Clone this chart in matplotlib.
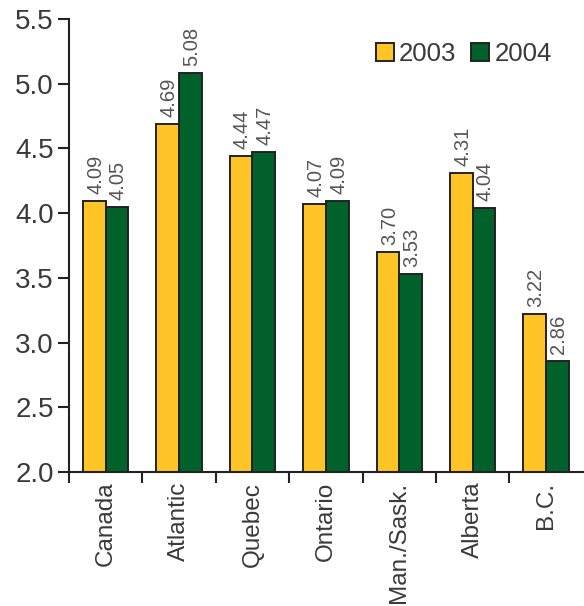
import matplotlib
matplotlib.use("Agg")
import matplotlib.pyplot as plt
import numpy as np
from matplotlib.patches import Patch

regions = ["Canada", "Atlantic", "Quebec", "Ontario", "Man./Sask.", "Alberta", "B.C."]
values_2003 = [4.09, 4.69, 4.44, 4.07, 3.70, 4.31, 3.22]
values_2004 = [4.05, 5.08, 4.47, 4.09, 3.53, 4.04, 2.86]
series_labels = ["2003", "2004"]
yticks = [2.0, 2.5, 3.0, 3.5, 4.0, 4.5, 5.0, 5.5]

plt.rcParams["font.family"] = ["Liberation Sans", "DejaVu Sans"]

yellow = "#FFC425"
green = "#00622A"
edge = "#222222"
text_c = "#3a3a3a"

fig = plt.figure(figsize=(5.84, 6.06), dpi=100)
ax = fig.add_axes([0.118, 0.221, 0.880, 0.748])

base = 2.0
x = np.arange(len(regions))
w = 0.31
ax.bar(x - w / 2, np.array(values_2003) - base, w, bottom=base,
       color=yellow, edgecolor=edge, linewidth=1.4)
ax.bar(x + w / 2, np.array(values_2004) - base, w, bottom=base,
       color=green, edgecolor=edge, linewidth=1.4)

for xs, vals in ((x - w / 2, values_2003), (x + w / 2, values_2004)):
    for xi, v in zip(xs, vals):
        ax.annotate(f"{v:.2f}", (xi, v), xytext=(1, 5), textcoords="offset points",
                    rotation=90, ha="center", va="bottom", fontsize=14.5,
                    color="#555555")

ax.set_xlim(-0.5, len(regions) - 0.5)
ax.set_ylim(2.0, 5.5)
ax.set_yticks(yticks)
ax.set_yticklabels([f"{t:.1f}" for t in yticks], fontsize=20, color=text_c)

ax.set_xticks(x - 0.5, minor=False)
ax.set_xticklabels([])
ax.set_xticks(x, minor=True)
ax.set_xticklabels(regions, minor=True, rotation=90, fontsize=17.5, color=text_c)
ax.tick_params(axis="x", which="minor", length=0, pad=7)
ax.tick_params(axis="x", which="major", length=8, width=1.5, color=edge, direction="out")
ax.tick_params(axis="y", length=8, width=1.5, color=edge, direction="out", pad=3)

for s in ("top", "right"):
    ax.spines[s].set_visible(False)
for s in ("left", "bottom"):
    ax.spines[s].set_linewidth(1.5)
    ax.spines[s].set_color(edge)

handles = [Patch(facecolor=yellow, edgecolor=edge, linewidth=1.4),
           Patch(facecolor=green, edgecolor=edge, linewidth=1.4)]
leg = ax.legend(handles, series_labels, loc="upper right", ncol=2, frameon=False,
                fontsize=18.5, handlelength=0.7, handleheight=0.7, handletextpad=0.2,
                columnspacing=0.6, bbox_to_anchor=(0.985, 1.0))
for t in leg.get_texts():
    t.set_color(text_c)

fig.savefig("out.png", dpi=100)
